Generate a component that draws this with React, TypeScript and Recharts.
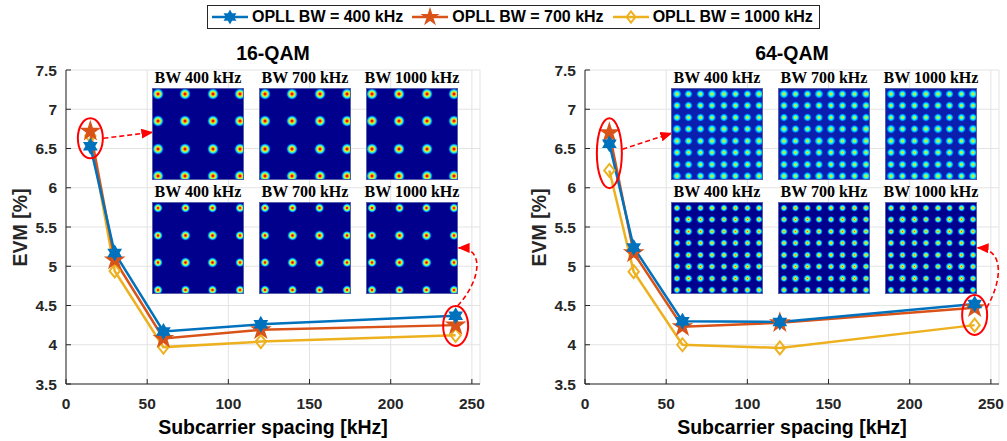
import React from "react";
import {
  LineChart,
  Line,
  XAxis,
  YAxis,
  CartesianGrid,
  ReferenceDot,
} from "recharts";

// subcarrier spacing [kHz]
const spacing = [15, 30, 60, 120, 240];

// EVM [%], 16-QAM
const qam16Bw400 = [6.53, 5.17, 4.17, 4.26, 4.37];
const qam16Bw700 = [6.72, 5.08, 4.08, 4.19, 4.25];
const qam16Bw1000 = [6.66, 4.94, 3.97, 4.04, 4.12];

// EVM [%], 64-QAM
const qam64Bw400 = [6.56, 5.24, 4.3, 4.29, 4.52];
const qam64Bw700 = [6.7, 5.17, 4.23, 4.28, 4.47];
const qam64Bw1000 = [6.22, 4.93, 4.0, 3.96, 4.25];

const seriesNames = [
  "OPLL BW = 400 kHz",
  "OPLL BW = 700 kHz",
  "OPLL BW = 1000 kHz",
];
const insetLabels = ["BW 400 kHz", "BW 700 kHz", "BW 1000 kHz"];

const xTicks = [0, 50, 100, 150, 200, 250];
const yTicks = [3.5, 4, 4.5, 5, 5.5, 6, 6.5, 7, 7.5];

const BLUE = "#0072BD";
const ORANGE = "#D95319";
const YELLOW = "#EDB120";
const RED = "#ff0000";
const AXIS = "#262626";
const FONT = 'Arial, "Liberation Sans", Helvetica, sans-serif';
const SERIF = '"Times New Roman", "Liberation Serif", serif';

function starPath(cx: number, cy: number, n: number, outer: number, inner: number) {
  let d = "";
  for (let i = 0; i < 2 * n; i++) {
    const a = -Math.PI / 2 + (i * Math.PI) / n;
    const r = i % 2 ? inner : outer;
    d += (i ? "L" : "M") + (cx + r * Math.cos(a)).toFixed(2) + " " + (cy + r * Math.sin(a)).toFixed(2);
  }
  return d + "Z";
}

function markerPath(kind: string, cx: number, cy: number, s = 1) {
  if (kind === "hex") return starPath(cx, cy, 6, 7 * s, (7 * s) / Math.sqrt(3));
  if (kind === "pent") return starPath(cx, cy, 5, 9 * s, 9 * s * 0.382);
  const r = 6.5 * s;
  return `M${cx} ${cy - r}L${cx + r * 0.8} ${cy}L${cx} ${cy + r}L${cx - r * 0.8} ${cy}Z`;
}

const makeDot = (kind: string, color: string) => (props: any) => {
  const { cx, cy, index } = props;
  if (cx == null || cy == null) return <g key={`${kind}-${index}`} />;
  return (
    <path
      key={`${kind}-${index}`}
      d={markerPath(kind, cx, cy)}
      fill={kind === "dia" ? "none" : color}
      stroke={color}
      strokeWidth={kind === "dia" ? 2 : 1.5}
      strokeLinejoin="miter"
    />
  );
};

type Note = {
  x: number;
  y: number;
  ry: number;
  arrow: string; // path relative to ellipse centre
  id: string;
};

const noteShape = (note: Note) => (props: any) => {
  const { cx, cy } = props;
  if (cx == null) return <g />;
  const d = note.arrow.replace(/(-?\d+(\.\d+)?),(-?\d+(\.\d+)?)/g, (_m, a, _b, c) =>
    `${(cx + Number(a)).toFixed(1)},${(cy + Number(c)).toFixed(1)}`
  );
  return (
    <g>
      <defs>
        <marker
          id={note.id}
          markerUnits="userSpaceOnUse"
          markerWidth={12}
          markerHeight={10}
          refX={11}
          refY={5}
          orient="auto"
        >
          <path d="M0 0L12 5L0 10Z" fill={RED} />
        </marker>
      </defs>
      <ellipse cx={cx} cy={cy} rx={12.5} ry={note.ry} fill="none" stroke={RED} strokeWidth={2} />
      <path
        d={d}
        fill="none"
        stroke={RED}
        strokeWidth={1.6}
        strokeDasharray="5 3"
        markerEnd={`url(#${note.id})`}
      />
    </g>
  );
};

function EvmChart({
  s400,
  s700,
  s1000,
  width,
  right,
  notes,
}: {
  s400: number[];
  s700: number[];
  s1000: number[];
  width: number;
  right: number;
  notes: Note[];
}) {
  const data = spacing.map((x, i) => ({ x, a: s400[i], b: s700[i], c: s1000[i] }));
  const tick = { fill: AXIS, fontSize: 15.5, fontWeight: "bold", fontFamily: FONT };
  return (
    <LineChart width={width} height={441} data={data} margin={{ top: 70, right, bottom: 0, left: 26 }}>
      <CartesianGrid stroke="#e3e3e3" strokeWidth={1} />
      <XAxis
        type="number"
        dataKey="x"
        domain={[0, 255]}
        ticks={xTicks}
        height={57}
        tickSize={-5}
        tickMargin={19}
        tick={tick}
        axisLine={{ stroke: AXIS }}
        tickLine={{ stroke: AXIS }}
      />
      <YAxis
        type="number"
        domain={[3.5, 7.5]}
        ticks={yTicks}
        width={40}
        tickSize={-5}
        tickMargin={14}
        tick={tick}
        axisLine={{ stroke: AXIS }}
        tickLine={{ stroke: AXIS }}
      />
      <Line dataKey="c" stroke={YELLOW} strokeWidth={2.5} dot={makeDot("dia", YELLOW)} isAnimationActive={false} />
      <Line dataKey="b" stroke={ORANGE} strokeWidth={2.5} dot={makeDot("pent", ORANGE)} isAnimationActive={false} />
      <Line dataKey="a" stroke={BLUE} strokeWidth={2.5} dot={makeDot("hex", BLUE)} isAnimationActive={false} />
      {notes.map((n) => (
        <ReferenceDot key={n.id} x={n.x} y={n.y} r={1} ifOverflow="visible" shape={noteShape(n)} />
      ))}
    </LineChart>
  );
}

const dotStyles: Record<string, { bg: string; grad: string; size: number }> = {
  q16top: {
    bg: "#00008c",
    size: 12,
    grad: "radial-gradient(circle closest-side, #b00000 0%, #ff2000 16%, #ffe000 36%, #60ffa0 54%, #00b0ff 72%, rgba(0,40,200,0.6) 88%, rgba(0,0,140,0) 100%)",
  },
  q16bot: {
    bg: "#00008c",
    size: 10.5,
    grad: "radial-gradient(circle closest-side, #b00000 0%, #ff2000 16%, #ffe000 34%, #60ffa0 52%, #00b0ff 70%, rgba(0,40,200,0.6) 86%, rgba(0,0,140,0) 100%)",
  },
  q64top: {
    bg: "#0a1fae",
    size: 9.5,
    grad: "radial-gradient(circle closest-side, #f0c000 0%, #b0ff50 22%, #00f0ff 46%, #0090ff 68%, rgba(0,60,220,0.5) 85%, rgba(0,40,200,0) 100%)",
  },
  q64bot: {
    bg: "#00008e",
    size: 8.5,
    grad: "radial-gradient(circle closest-side, #ff4000 0%, #ffe000 20%, #40ffc0 42%, #00a0ff 64%, rgba(0,40,200,0.5) 84%, rgba(0,0,160,0) 100%)",
  },
};

function Constellation({ left, top, n, label, kind }: { left: number; top: number; n: number; label: string; kind: string }) {
  const size = 92;
  const start = 0.054;
  const step = (1 - 2 * start) / (n - 1);
  const st = dotStyles[kind];
  const dots = [];
  for (let i = 0; i < n; i++) {
    for (let j = 0; j < n; j++) {
      dots.push(
        <div
          key={`${i}-${j}`}
          style={{
            position: "absolute",
            left: (start + i * step) * size - st.size / 2,
            top: (start + j * step) * size - st.size / 2,
            width: st.size,
            height: st.size,
            background: st.grad,
          }}
        />
      );
    }
  }
  return (
    <>
      <div
        style={{
          position: "absolute",
          left: left + size / 2 - 70,
          top: top - 18,
          width: 140,
          textAlign: "center",
          fontFamily: SERIF,
          fontWeight: "bold",
          fontSize: 16,
          lineHeight: "16px",
          color: "#000",
          whiteSpace: "nowrap",
        }}
      >
        {label}
      </div>
      <div
        style={{
          position: "absolute",
          left,
          top,
          width: size,
          height: size,
          background: st.bg,
          boxSizing: "border-box",
          border: "1px solid #5560a8",
          overflow: "hidden",
        }}
      >
        {dots}
      </div>
    </>
  );
}

function LegendIcon({ kind, color }: { kind: string; color: string }) {
  return (
    <svg width={36} height={20} style={{ display: "block" }}>
      <line x1={0} y1={10} x2={36} y2={10} stroke={color} strokeWidth={2.5} />
      <path
        d={markerPath(kind, 18, 10, 0.85)}
        fill={kind === "dia" ? "none" : color}
        stroke={color}
        strokeWidth={kind === "dia" ? 2 : 1.5}
      />
    </svg>
  );
}

const legendKinds = [
  { kind: "hex", color: BLUE },
  { kind: "pent", color: ORANGE },
  { kind: "dia", color: YELLOW },
];

export default function App() {
  const leftNotes: Note[] = [
    { id: "a16l", x: 15, y: 6.63, ry: 20, arrow: "M13,0 L62,-6" },
    { id: "a16r", x: 240, y: 4.24, ry: 20, arrow: "M2,-20 C25,-45 30,-78 3,-78" },
  ];
  const rightNotes: Note[] = [
    { id: "a64l", x: 15, y: 6.44, ry: 35, arrow: "M13,-4 L62,-20" },
    { id: "a64r", x: 240, y: 4.38, ry: 20, arrow: "M12,-7 C28,-35 30,-66 3,-67" },
  ];
  const text = (s: string, cx: number, cy: number, size: number, rotate = false) => (
    <div
      style={{
        position: "absolute",
        left: cx - 200,
        top: cy - size,
        width: 400,
        height: size * 2,
        lineHeight: `${size * 2}px`,
        textAlign: "center",
        fontFamily: FONT,
        fontWeight: "bold",
        fontSize: size,
        color: rotate ? AXIS : "#000",
        transform: rotate ? "rotate(-90deg)" : undefined,
        whiteSpace: "nowrap",
      }}
    >
      {s}
    </div>
  );
  return (
    <div style={{ position: "absolute", left: 0, top: 0, width: 1007, height: 441, background: "#fff", overflow: "hidden" }}>
      <div style={{ position: "absolute", left: 0, top: 0 }}>
        <EvmChart s400={qam16Bw400} s700={qam16Bw700} s1000={qam16Bw1000} width={500} right={20} notes={leftNotes} />
      </div>
      <div style={{ position: "absolute", left: 519, top: 0 }}>
        <EvmChart s400={qam64Bw400} s700={qam64Bw700} s1000={qam64Bw1000} width={488} right={8} notes={rightNotes} />
      </div>

      {text("16-QAM", 273, 53, 19.5)}
      {text("64-QAM", 792, 53, 19.5)}
      {text("Subcarrier spacing [kHz]", 273, 427, 19.5)}
      {text("Subcarrier spacing [kHz]", 792, 427, 19.5)}
      {text("EVM [%]", 20, 227, 19.5, true)}
      {text("EVM [%]", 539, 227, 19.5, true)}

      {[152, 259, 366].map((x, i) => (
        <React.Fragment key={`l${i}`}>
          <Constellation left={x} top={88} n={4} label={insetLabels[i]} kind="q16top" />
          <Constellation left={x} top={202} n={4} label={insetLabels[i]} kind="q16bot" />
        </React.Fragment>
      ))}
      {[671, 778, 885].map((x, i) => (
        <React.Fragment key={`r${i}`}>
          <Constellation left={x} top={88} n={8} label={insetLabels[i]} kind="q64top" />
          <Constellation left={x} top={202} n={8} label={insetLabels[i]} kind="q64bot" />
        </React.Fragment>
      ))}

      <div
        style={{
          position: "absolute",
          left: 207,
          top: 5,
          height: 24,
          boxSizing: "border-box",
          border: "1px solid #262626",
          background: "#fff",
          display: "flex",
          alignItems: "center",
          padding: "0 6px 0 4px",
          fontFamily: FONT,
          fontWeight: "bold",
          fontSize: 16,
          color: "#000",
          whiteSpace: "nowrap",
        }}
      >
        {seriesNames.map((name, i) => (
          <div key={name} style={{ display: "flex", alignItems: "center", marginRight: i < 2 ? 9 : 0 }}>
            <LegendIcon kind={legendKinds[i].kind} color={legendKinds[i].color} />
            <span style={{ marginLeft: 4 }}>{name}</span>
          </div>
        ))}
      </div>
    </div>
  );
}
